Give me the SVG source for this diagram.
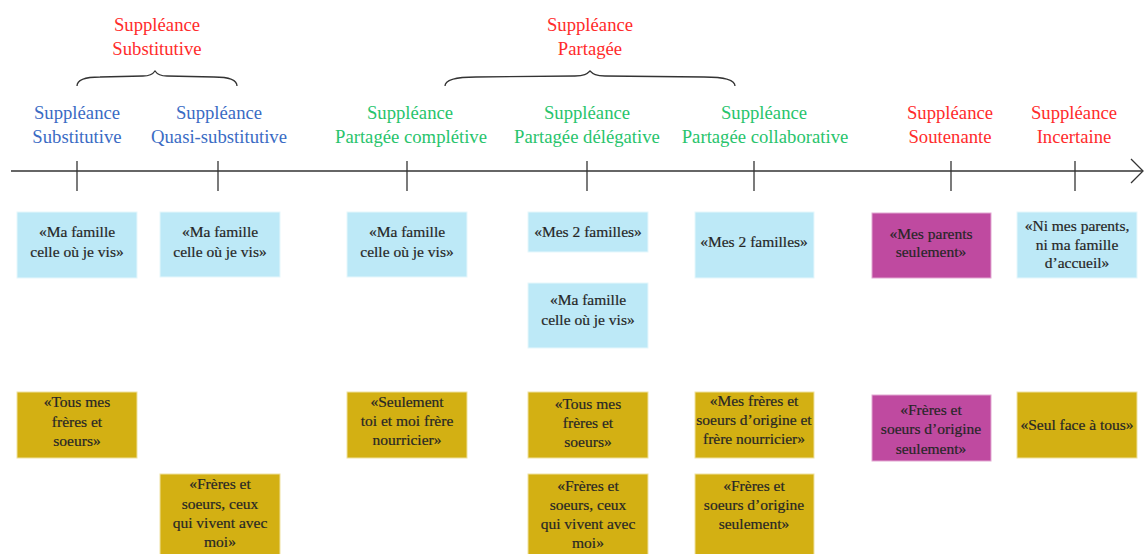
<svg xmlns="http://www.w3.org/2000/svg" width="1144" height="554" viewBox="0 0 1144 554">
  <style>
    text { font-family: "Liberation Serif", "Times New Roman", serif; text-anchor: middle; }
    .head { font-size: 18.7px; }
    .red { fill: #ff2b2b; }
    .blue { fill: #3a6bc4; }
    .green { fill: #28c46c; }
    .box text { font-size: 15.5px; fill: #262626; stroke: #262626; stroke-width: 0.2; }
    .sky { fill: #bde9f7; stroke: #e6f7fc; stroke-width: 1; }
    .gold { fill: #d3b013; stroke: #efe2a0; stroke-width: 1; }
    .plum { fill: #bf4aa0; stroke: #e2a7d2; stroke-width: 1; }
    .ink { fill: none; stroke: #333; stroke-width: 1.3; }
  </style>

  <!-- group titles with braces -->
  <g id="group-substitutive">
    <text class="head red" x="157" y="31">Suppléance</text>
    <text class="head red" x="157" y="55">Substitutive</text>
    <path class="ink" d="M77,86 C77,79 86,77 100,77 L143,76 C150,76 153,74 155,71 C157,74 160,76 167,76 L214,77 C228,77 237,79 237,86"/>
  </g>
  <g id="group-partagee">
    <text class="head red" x="590" y="31">Suppléance</text>
    <text class="head red" x="590" y="55">Partagée</text>
    <path class="ink" d="M445,86 C445,79 458,77 476,77 L575,76 C584,76 587,74 590,71 C593,74 596,76 605,76 L704,77 C722,77 735,79 735,86"/>
  </g>

  <!-- axis with ticks -->
  <g id="connectors">
    <line class="ink" x1="11" y1="171" x2="1142" y2="171"/>
    <path class="ink" d="M1131,159 L1143,171 L1131,183"/>
    <line class="ink" x1="77" y1="161" x2="77" y2="191"/>
    <line class="ink" x1="218" y1="161" x2="218" y2="191"/>
    <line class="ink" x1="407" y1="161" x2="407" y2="191"/>
    <line class="ink" x1="587" y1="161" x2="587" y2="191"/>
    <line class="ink" x1="754" y1="161" x2="754" y2="191"/>
    <line class="ink" x1="951" y1="161" x2="951" y2="191"/>
    <line class="ink" x1="1075" y1="161" x2="1075" y2="191"/>
  </g>

  <!-- category labels -->
  <g id="label-substitutive">
    <text class="head blue" x="77" y="119">Suppléance</text>
    <text class="head blue" x="77" y="143">Substitutive</text>
  </g>
  <g id="label-quasi">
    <text class="head blue" x="219" y="119">Suppléance</text>
    <text class="head blue" x="219" y="143">Quasi-substitutive</text>
  </g>
  <g id="label-completive">
    <text class="head green" x="410" y="119">Suppléance</text>
    <text class="head green" x="411" y="143">Partagée complétive</text>
  </g>
  <g id="label-delegative">
    <text class="head green" x="587" y="119">Suppléance</text>
    <text class="head green" x="587" y="143">Partagée délégative</text>
  </g>
  <g id="label-collaborative">
    <text class="head green" x="764" y="119">Suppléance</text>
    <text class="head green" x="765" y="143">Partagée collaborative</text>
  </g>
  <g id="label-soutenante">
    <text class="head red" x="950" y="119">Suppléance</text>
    <text class="head red" x="950" y="143">Soutenante</text>
  </g>
  <g id="label-incertaine">
    <text class="head red" x="1074" y="119">Suppléance</text>
    <text class="head red" x="1074" y="143">Incertaine</text>
  </g>

  <!-- family boxes -->
  <g id="fam-substitutive" class="box">
    <rect class="sky" x="17" y="212" width="120" height="66"/>
    <text x="77" y="237">«Ma famille</text>
    <text x="77" y="257">celle où je vis»</text>
  </g>
  <g id="fam-quasi" class="box">
    <rect class="sky" x="160" y="212" width="120" height="65"/>
    <text x="220" y="237">«Ma famille</text>
    <text x="220" y="257">celle où je vis»</text>
  </g>
  <g id="fam-completive" class="box">
    <rect class="sky" x="347" y="212" width="120" height="65"/>
    <text x="407" y="237">«Ma famille</text>
    <text x="407" y="257">celle où je vis»</text>
  </g>
  <g id="fam-delegative-1" class="box">
    <rect class="sky" x="528" y="212" width="120" height="40"/>
    <text x="588" y="237">«Mes 2 familles»</text>
  </g>
  <g id="fam-delegative-2" class="box">
    <rect class="sky" x="528" y="283" width="120" height="65"/>
    <text x="588" y="305">«Ma famille</text>
    <text x="588" y="325">celle où je vis»</text>
  </g>
  <g id="fam-collaborative" class="box">
    <rect class="sky" x="695" y="212" width="119" height="66"/>
    <text x="754" y="247">«Mes 2 familles»</text>
  </g>
  <g id="fam-soutenante" class="box">
    <rect class="plum" x="872" y="213" width="119" height="65"/>
    <text x="931" y="239">«Mes parents</text>
    <text x="931" y="257">seulement»</text>
  </g>
  <g id="fam-incertaine" class="box">
    <rect class="sky" x="1017" y="212" width="120" height="66"/>
    <text x="1077" y="231">«Ni mes parents,</text>
    <text x="1077" y="250">ni ma famille</text>
    <text x="1077" y="268">d’accueil»</text>
  </g>

  <!-- sibling boxes -->
  <g id="sib-substitutive" class="box">
    <rect class="gold" x="17" y="392" width="120" height="66"/>
    <text x="77" y="407">«Tous mes</text>
    <text x="77" y="427">frères et</text>
    <text x="77" y="446">soeurs»</text>
  </g>
  <g id="sib-quasi" class="box">
    <rect class="gold" x="160" y="474" width="120" height="82"/>
    <text x="220" y="489">«Frères et</text>
    <text x="220" y="509">soeurs, ceux</text>
    <text x="220" y="528">qui vivent avec</text>
    <text x="220" y="547">moi»</text>
  </g>
  <g id="sib-completive" class="box">
    <rect class="gold" x="347" y="392" width="120" height="66"/>
    <text x="407" y="407">«Seulement</text>
    <text x="407" y="426">toi et moi frère</text>
    <text x="407" y="445">nourricier»</text>
  </g>
  <g id="sib-delegative-1" class="box">
    <rect class="gold" x="528" y="392" width="120" height="66"/>
    <text x="588" y="409">«Tous mes</text>
    <text x="588" y="428">frères et</text>
    <text x="588" y="447">soeurs»</text>
  </g>
  <g id="sib-delegative-2" class="box">
    <rect class="gold" x="528" y="474" width="120" height="82"/>
    <text x="588" y="491">«Frères et</text>
    <text x="588" y="510">soeurs, ceux</text>
    <text x="588" y="529">qui vivent avec</text>
    <text x="588" y="548">moi»</text>
  </g>
  <g id="sib-collaborative-1" class="box">
    <rect class="gold" x="695" y="392" width="119" height="66"/>
    <text x="754" y="406">«Mes frères et</text>
    <text x="754" y="425">soeurs d’origine et</text>
    <text x="754" y="444">frère nourricier»</text>
  </g>
  <g id="sib-collaborative-2" class="box">
    <rect class="gold" x="695" y="474" width="119" height="82"/>
    <text x="754" y="491">«Frères et</text>
    <text x="754" y="510">soeurs d’origine</text>
    <text x="754" y="529">seulement»</text>
  </g>
  <g id="sib-soutenante" class="box">
    <rect class="plum" x="872" y="395" width="119" height="66"/>
    <text x="931" y="415">«Frères et</text>
    <text x="931" y="434">soeurs d’origine</text>
    <text x="931" y="454">seulement»</text>
  </g>
  <g id="sib-incertaine" class="box">
    <rect class="gold" x="1017" y="392" width="120" height="66"/>
    <text x="1077" y="430">«Seul face à tous»</text>
  </g>
</svg>
